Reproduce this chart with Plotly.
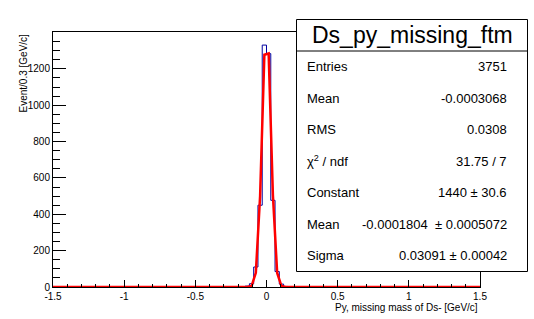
import numpy as np
import plotly.graph_objects as go

# ---------------- data ----------------
bin_centers = [-0.135, -0.105, -0.075, -0.045, -0.015, 0.015, 0.045, 0.075, 0.105, 0.135]
counts = [5, 18, 110, 450, 1331, 1284, 477, 85, 16, 3]

fit_x = [-1.5, -0.165, -0.135, -0.105, -0.075, -0.045, -0.015, 0.015, 0.045, 0.075, 0.105, 0.135, 0.165, 1.5]
fit_y = [0, 0, 0, 5, 78, 500, 1278, 1285, 505, 77, 5, 0, 0, 0]

x_tick_vals = [-1.5, -1.0, -0.5, 0.0, 0.5, 1.0, 1.5]
x_tick_text = ["-1.5", "-1", "-0.5", "0", "0.5", "1", "1.5"]
y_tick_vals = [0, 200, 400, 600, 800, 1000, 1200]
y_tick_text = ["0", "200", "400", "600", "800", "1000", "1200"]

stats_title = "Ds_py_missing_ftm"
stat_labels = ["Entries", "Mean", "RMS", "\u03c7<sup>2</sup> / ndf", "Constant", "Mean", "Sigma"]
stat_values = ["3751", "-0.0003068", "0.0308", "31.75 / 7", "1440 \u00b1 30.6",
               "-0.0001804  \u00b1 0.0005072", "0.03091 \u00b1 0.00042"]

x_title = "Py, missing mass of Ds- [GeV/c]"
y_title = "Event/0.3 [GeV/c]"

# ---------------- histogram outline ----------------
xmin, xmax, nbins = -1.5, 1.5, 100
edges = np.linspace(xmin, xmax, nbins + 1)
full = np.zeros(nbins)
for c, v in zip(bin_centers, counts):
    idx = int(np.floor((c - xmin) / (xmax - xmin) * nbins))
    full[idx] = v
step_x = list(edges)
step_y = list(full) + [full[-1]]

W, H = 534, 319
L, R, T, B = 53, 480, 32, 287

def px(xp):
    return (xp - L) / (R - L)

def py(yp):
    return (B - yp) / (B - T)

fig = go.Figure()
fig.add_trace(go.Scatter(x=step_x, y=step_y, mode="lines", line_shape="hv",
                         line=dict(color="#0000a0", width=1), hoverinfo="skip"))
fig.add_trace(go.Scatter(x=fit_x, y=fit_y, mode="lines",
                         line=dict(color="#ff0000", width=2.5), hoverinfo="skip"))

font = "Liberation Sans, Arial, sans-serif"

# stats box
bx0, bx1, by0, by1, bdiv = 296.5, 527.5, 19.5, 271.5, 51
fig.add_shape(type="rect", xref="paper", yref="paper",
              x0=px(bx0), x1=px(bx1), y0=py(by1), y1=py(by0),
              line=dict(color="black", width=1), fillcolor="white", layer="above")
fig.add_shape(type="line", xref="paper", yref="paper",
              x0=px(bx0), x1=px(bx1), y0=py(bdiv), y1=py(bdiv),
              line=dict(color="black", width=1), layer="above")
fig.add_annotation(xref="paper", yref="paper", x=px((bx0 + bx1) / 2), y=py((by0 + bdiv) / 2),
                   text=stats_title, showarrow=False, xanchor="center", yanchor="middle",
                   font=dict(family=font, size=23, color="black"))
row_h = (by1 - bdiv) / len(stat_labels)
for i, (lab, val) in enumerate(zip(stat_labels, stat_values)):
    yc = bdiv + row_h * (i + 0.5)
    fig.add_annotation(xref="paper", yref="paper", x=px(305), y=py(yc), text=lab,
                       showarrow=False, xanchor="left", yanchor="middle",
                       font=dict(family=font, size=13, color="black"))
    fig.add_annotation(xref="paper", yref="paper", x=px(509), y=py(yc), text=val,
                       showarrow=False, xanchor="right", yanchor="middle",
                       font=dict(family=font, size=13, color="black"))

# axis titles
fig.add_annotation(xref="paper", yref="paper", x=1.0, y=py(300), text=x_title,
                   showarrow=False, xanchor="right", yanchor="top",
                   font=dict(family=font, size=10, color="black"))
fig.add_annotation(xref="paper", yref="paper", x=px(23), y=1.0, text=y_title,
                   showarrow=False, xanchor="center", yanchor="top", textangle=-90,
                   font=dict(family=font, size=10, color="black"))

fig.update_layout(
    width=W, height=H,
    margin=dict(l=L, r=W - R, t=T, b=H - B, pad=0),
    paper_bgcolor="white", plot_bgcolor="white",
    showlegend=False, hovermode=False,
    font=dict(family=font, size=10, color="black"),
    xaxis=dict(range=[xmin, xmax], showgrid=False, zeroline=False,
               showline=True, mirror=True, linecolor="black", linewidth=1,
               ticks="inside", ticklen=7, tickcolor="black",
               tickvals=x_tick_vals, ticktext=x_tick_text,
               minor=dict(ticks="inside", ticklen=3.5, dtick=0.1, tick0=-1.5, tickcolor="black", showgrid=False),
               tickfont=dict(family=font, size=10, color="black")),
    yaxis=dict(range=[0, 1403], showgrid=False, zeroline=False,
               showline=True, mirror=True, linecolor="black", linewidth=1,
               ticks="inside", ticklen=13, tickcolor="black",
               tickvals=y_tick_vals, ticktext=y_tick_text,
               minor=dict(ticks="inside", ticklen=6.5, dtick=50, tick0=0, tickcolor="black", showgrid=False),
               tickfont=dict(family=font, size=10, color="black")),
)

fig.write_html("out.html", config={"displayModeBar": False, "staticPlot": True},
               post_script="document.body.style.margin='0';document.body.style.overflow='hidden';")
